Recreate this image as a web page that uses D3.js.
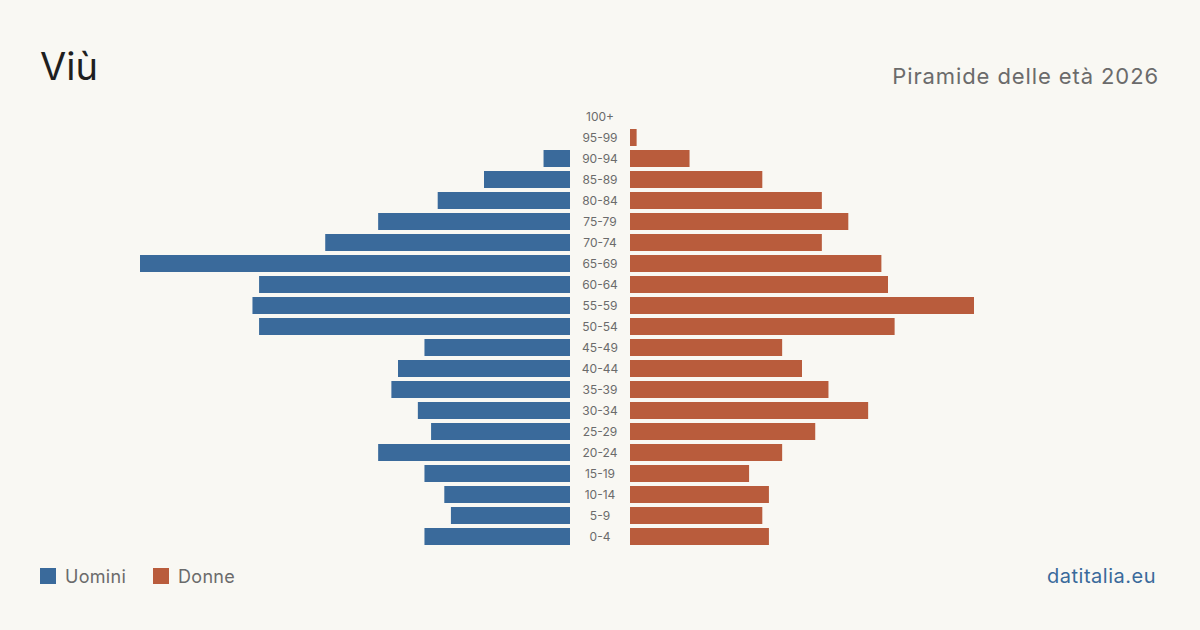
<!DOCTYPE html>
<html lang="it">
<head>
    <meta charset="UTF-8">
    <title>Viù - Piramide delle età 2026</title>
    <script src="https://d3js.org/d3.v7.min.js"></script>
    <style>
        body { margin: 0; background: #f9f8f3; }
        svg { display: block; font-family: Inter, "Noto Sans", sans-serif; }
    </style>
</head>
<body>
    <svg width="1200" height="630"></svg>

    <script>
        // Age classes, top to bottom
        const ages = ["100+", "95-99", "90-94", "85-89", "80-84", "75-79", "70-74", "65-69",
            "60-64", "55-59", "50-54", "45-49", "40-44", "35-39", "30-34", "25-29",
            "20-24", "15-19", "10-14", "5-9", "0-4"];
        const men   = [0, 0, 4, 13, 20, 29, 37, 65, 47, 48, 47, 22, 26, 27, 23, 21, 29, 22, 19, 18, 22];
        const women = [0, 1, 9, 20, 29, 33, 29, 38, 39, 52, 40, 23, 26, 30, 36, 28, 23, 18, 21, 20, 21];

        const blue = "#3a6a9b";
        const red = "#b95c3c";

        const svg = d3.select("svg");

        svg.append("rect").attr("width", 1200).attr("height", 630).attr("fill", "#f9f8f3");

        // Scales
        const y = d3.scaleBand()
            .domain(ages)
            .range([106, 547])
            .paddingInner(4 / 21)
            .paddingOuter(2 / 21);

        const x = d3.scaleLinear()
            .domain([0, d3.max(men.concat(women))])
            .range([0, 430]);

        const leftEdge = 570, rightEdge = 630;

        // Men bars (to the left)
        svg.append("g").selectAll("rect")
            .data(ages)
            .join("rect")
            .attr("x", (d, i) => leftEdge - x(men[i]))
            .attr("y", d => y(d))
            .attr("width", (d, i) => x(men[i]))
            .attr("height", y.bandwidth())
            .attr("fill", blue);

        // Women bars (to the right)
        svg.append("g").selectAll("rect")
            .data(ages)
            .join("rect")
            .attr("x", rightEdge)
            .attr("y", d => y(d))
            .attr("width", (d, i) => x(women[i]))
            .attr("height", y.bandwidth())
            .attr("fill", red);

        // Age labels in the middle
        svg.append("g").selectAll("text")
            .data(ages)
            .join("text")
            .attr("x", 600)
            .attr("y", d => y(d) + y.bandwidth() / 2 + 4)
            .attr("text-anchor", "middle")
            .attr("font-size", 12)
            .attr("fill", "#6b6b6b")
            .text(d => d);

        // Title and subtitle
        svg.append("text")
            .attr("x", 40).attr("y", 80)
            .attr("font-size", 38)
            .attr("fill", "#1f1f1f")
            .text("Viù");

        svg.append("text")
            .attr("x", 1159).attr("y", 84)
            .attr("text-anchor", "end")
            .attr("font-size", 22)
            .attr("letter-spacing", 0.9)
            .attr("fill", "#6b6b6b")
            .text("Piramide delle età 2026");

        // Legend
        const legend = [{ label: "Uomini", color: blue, x: 40 }, { label: "Donne", color: red, x: 153 }];
        const lg = svg.append("g").selectAll("g")
            .data(legend)
            .join("g")
            .attr("transform", d => `translate(${d.x},568)`);
        lg.append("rect").attr("width", 16).attr("height", 16).attr("fill", d => d.color);
        lg.append("text")
            .attr("x", 25).attr("y", 14.5)
            .attr("font-size", 18)
            .attr("letter-spacing", 0.3)
            .attr("fill", "#6b6b6b")
            .text(d => d.label);

        // Source
        svg.append("text")
            .attr("x", 1156).attr("y", 583)
            .attr("text-anchor", "end")
            .attr("font-size", 20)
            .attr("letter-spacing", 0.5)
            .attr("fill", "#3a6a9b")
            .text("datitalia.eu");
    </script>
</body>
</html>
